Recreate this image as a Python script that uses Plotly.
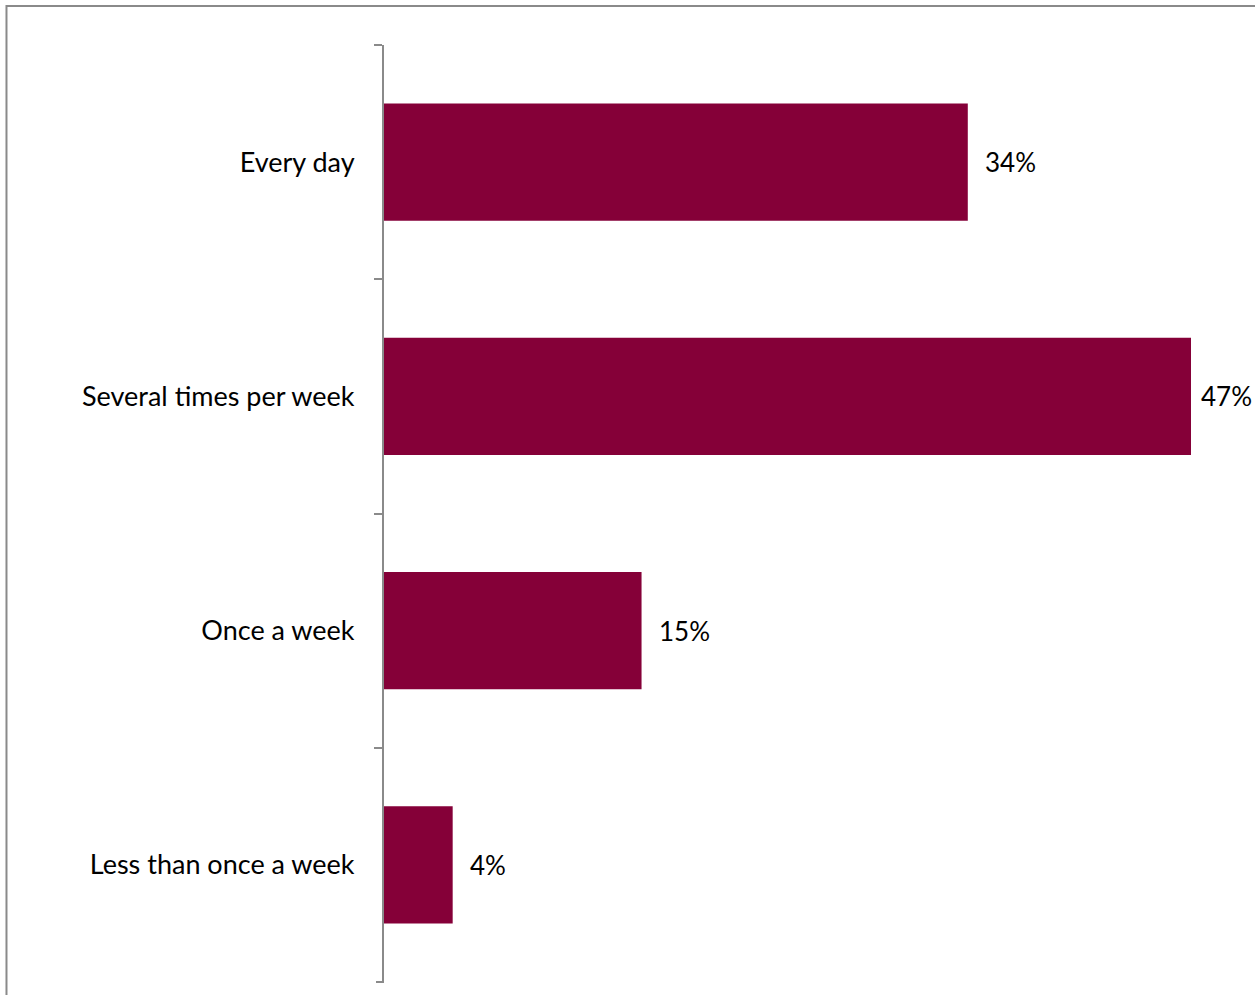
import plotly.graph_objects as go

categories = ["Every day", "Several times per week", "Once a week", "Less than once a week"]
values = [34, 47, 15, 4]
labels = ["34%", "47%", "15%", "4%"]
label_shifts = [15, 8, 15, 15]

FONT = "Lato, Calibri, sans-serif"

fig = go.Figure(go.Bar(
    x=values, y=categories, orientation="h",
    marker=dict(color="#850038", line=dict(width=0)),
    width=0.5,
))

for v, c, t, s in zip(values, categories, labels, label_shifts):
    fig.add_annotation(x=v, y=c, text=t, showarrow=False, xanchor="left",
                       xshift=s, font=dict(family=FONT, size=26, color="#000000"))

fig.update_layout(
    width=1255, height=995,
    margin=dict(l=384, r=64, t=45, b=13),
    paper_bgcolor="white", plot_bgcolor="white",
    showlegend=False,
    font=dict(family=FONT, size=27, color="#000000"),
    xaxis=dict(range=[0, 47], visible=False, fixedrange=True),
    yaxis=dict(
        range=[len(categories) - 0.5, -0.5], showline=True, linecolor="#8a8a8a", linewidth=2,
        ticks="outside", ticklen=8, tickcolor="#8a8a8a", tickwidth=2,
        tickson="boundaries", showgrid=False, ticklabelstandoff=22,
        tickfont=dict(size=27), fixedrange=True,
    ),
    shapes=[dict(type="rect", xref="paper", yref="paper",
                 x0=-0.4678, x1=1.2, y0=-0.1, y1=1.0416,
                 line=dict(color="#8a8a8a", width=2), fillcolor="rgba(0,0,0,0)", layer="below"),
            dict(type="line", xref="paper", yref="paper",
                 x0=-0.0099, x1=0, y0=0, y1=0,
                 line=dict(color="#8a8a8a", width=2))],
)

fig.write_html("out.html", config={"displayModeBar": False},
               post_script="document.body.style.margin='0';")
